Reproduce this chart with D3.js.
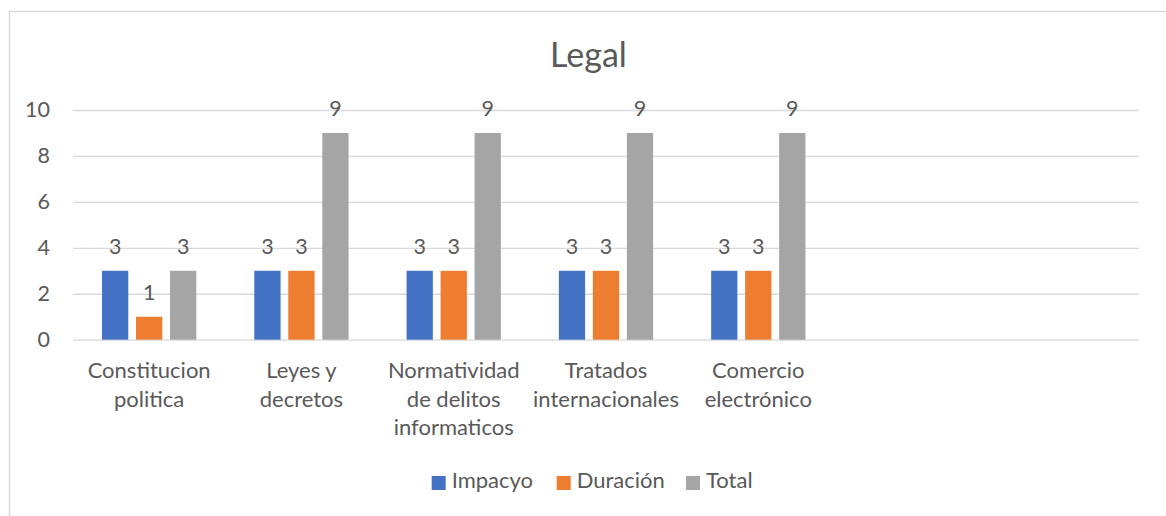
<!DOCTYPE html>
<html>
<head>
<meta charset="utf-8">
<script src="https://cdn.jsdelivr.net/npm/d3@7"></script>
<style>
	body { margin: 0; background: #ffffff; }
	text { font-family: Lato, "Open Sans", sans-serif; fill: #595959; }
</style>
</head>
<body>
<div id="chart"></div>
<script>
// Data
var title = "Legal";
var categories = [
	["Constitucion", "politica"],
	["Leyes y", "decretos"],
	["Normatividad", "de delitos", "informaticos"],
	["Tratados", "internacionales"],
	["Comercio", "electrónico"]
];
var slots = 7; // axis has 7 category slots, last two are empty
var seriesNames = ["Impacyo", "Duración", "Total"];
var impacyo = [3, 3, 3, 3, 3];
var duracion = [1, 3, 3, 3, 3];
var total = [3, 9, 9, 9, 9];
var yTicks = [0, 2, 4, 6, 8, 10];
var colors = ["#4472C4", "#ED7D31", "#A5A5A5"];

var seriesValues = [impacyo, duracion, total];

var W = 1166, H = 516;
var margin = { top: 110, left: 73 };
var plotW = 1139 - margin.left;
var plotH = 339.7 - margin.top;

var svg = d3.select("#chart")
	.append("svg")
	.attr("width", W)
	.attr("height", H);

// chart border (top and left visible)
svg.append("line")
	.attr("x1", 9).attr("x2", W).attr("y1", 11.5).attr("y2", 11.5)
	.style("stroke", "#d9d9d9").style("stroke-width", 1.5);
svg.append("line")
	.attr("x1", 9.5).attr("x2", 9.5).attr("y1", 11).attr("y2", H)
	.style("stroke", "#d9d9d9").style("stroke-width", 1.5);

var g = svg.append("g")
	.attr("transform", "translate(" + margin.left + "," + margin.top + ")");

// scales
var x0 = d3.scaleBand()
	.domain(d3.range(slots))
	.range([0, plotW])
	.padding(0);

var groupW = 94.3;
var x1 = d3.scaleBand()
	.domain(d3.range(seriesNames.length))
	.range([(x0.bandwidth() - groupW) / 2, (x0.bandwidth() + groupW) / 2])
	.paddingInner(0.227);

var y = d3.scaleLinear()
	.domain([0, 10])
	.range([plotH, 0]);

// gridlines + y axis labels
var yAxis = g.append("g")
	.call(d3.axisLeft(y).tickValues(yTicks).tickSize(-plotW).tickPadding(23));
yAxis.select(".domain").remove();
yAxis.selectAll(".tick line")
	.style("stroke", "#d9d9d9")
	.style("stroke-width", 1.3);
yAxis.selectAll(".tick text")
	.style("font-size", "21.5px")
	.style("font-family", "Lato, sans-serif")
	.attr("fill", "#595959");

// bars
var groups = g.selectAll(".cat")
	.data(categories)
	.enter()
	.append("g")
	.attr("class", "cat")
	.attr("transform", function (d, i) { return "translate(" + x0(i) + ",0)"; });

groups.each(function (d, ci) {
	var grp = d3.select(this);
	seriesValues.forEach(function (vals, si) {
		var v = vals[ci];
		grp.append("rect")
			.attr("x", x1(si))
			.attr("y", y(v))
			.attr("width", x1.bandwidth())
			.attr("height", y(0) - y(v))
			.style("fill", colors[si]);
		grp.append("text")
			.attr("x", x1(si) + x1.bandwidth() / 2)
			.attr("y", y(v) - 17)
			.attr("text-anchor", "middle")
			.style("font-size", "21.5px")
			.text(v);
	});
	// category labels
	var lbl = grp.append("text")
		.attr("text-anchor", "middle")
		.style("font-size", "22px");
	d.forEach(function (line, li) {
		lbl.append("tspan")
			.attr("x", x0.bandwidth() / 2)
			.attr("y", plotH + 38.6 + li * 28.3)
			.text(line);
	});
});

// title
svg.append("text")
	.attr("x", 588.5)
	.attr("y", 66.7)
	.attr("text-anchor", "middle")
	.style("font-size", "34px")
	.text(title);

// legend
var legendX = [431.7, 556.7, 686];
var legend = svg.selectAll(".legend")
	.data(seriesNames)
	.enter()
	.append("g")
	.attr("class", "legend")
	.attr("transform", function (d, i) { return "translate(" + legendX[i] + ",476)"; });
legend.append("rect")
	.attr("width", 14)
	.attr("height", 14)
	.style("fill", function (d, i) { return colors[i]; });
legend.append("text")
	.attr("x", 20)
	.attr("y", 12.3)
	.style("font-size", "22px")
	.text(function (d) { return d; });
</script>
</body>
</html>
